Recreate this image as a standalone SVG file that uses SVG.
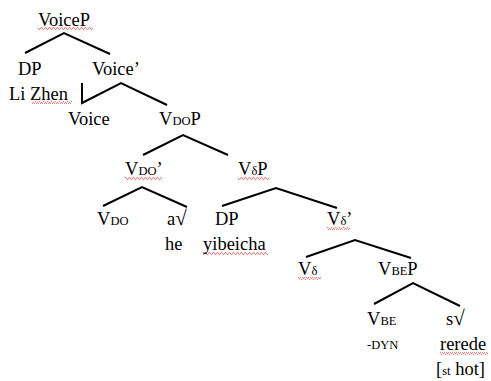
<svg xmlns="http://www.w3.org/2000/svg" width="491" height="381" viewBox="0 0 491 381">
<style>
  text { font-family: "Liberation Serif", "Times New Roman", serif; font-size: 18.5px; fill: #000; }
  .sc { font-size: 12.5px; }
  .rt { font-size: 21px; }
  .edge { fill: none; stroke: #000; stroke-width: 2; stroke-linejoin: miter; }
</style>
<defs>
  <pattern id="squig" x="0" y="0" width="4" height="3" patternUnits="userSpaceOnUse">
    <path d="M0,2.5 L1,0.5 L2,0.5 L3,2.5 L4,2.5" fill="none" stroke="#e26262" stroke-width="0.8"/>
  </pattern>
</defs>
<rect width="491" height="381" fill="#fff"/>
<g id="connectors">
  <polyline class="edge" points="25,53 64,33 110,54"/>
  <polyline class="edge" points="82,83 82,103 121,83 167,105"/>
  <polyline class="edge" points="143,155 183,135 228,155"/>
  <polyline class="edge" points="103,206 142,187 187,207"/>
  <polyline class="edge" points="222,206 276,188 337,208"/>
  <polyline class="edge" points="306,257 355,240 411,258"/>
  <polyline class="edge" points="374,304 413,283 460,306"/>
</g>
<g id="spellmarks">
  <rect x="38" y="27" width="55" height="3" fill="url(#squig)"/>
  <rect x="32" y="101" width="40" height="3" fill="url(#squig)"/>
  <rect x="125" y="177" width="37" height="3" fill="url(#squig)"/>
  <rect x="238" y="177" width="31" height="3" fill="url(#squig)"/>
  <rect x="203" y="252" width="65" height="3" fill="url(#squig)"/>
  <rect x="327" y="227" width="23" height="3" fill="url(#squig)"/>
  <rect x="298" y="277" width="23" height="3" fill="url(#squig)"/>
  <rect x="440" y="352" width="48" height="3" fill="url(#squig)"/>
</g>
<g id="n-voicep"><text x="38" y="26">VoiceP</text></g>
<g id="n-dp1"><text x="18" y="75">DP</text><text x="9" y="100">Li Zhen</text></g>
<g id="n-voicebar"><text x="92" y="75">Voice’</text></g>
<g id="n-voice"><text x="68" y="125">Voice</text></g>
<g id="n-vdop"><text x="159" y="125">V<tspan class="sc">DO</tspan>P</text></g>
<g id="n-vdobar"><text x="125" y="175">V<tspan class="sc">DO</tspan>’</text></g>
<g id="n-vdeltap"><text x="238" y="175">V<tspan class="sc">δ</tspan>P</text></g>
<g id="n-vdo"><text x="97" y="225">V<tspan class="sc">DO</tspan></text></g>
<g id="n-aroot"><text x="167" y="225">a<tspan class="rt">√</tspan></text><text x="165" y="250">he</text></g>
<g id="n-dp2"><text x="215" y="225">DP</text><text x="203" y="250">yibeicha</text></g>
<g id="n-vdeltabar"><text x="327" y="225">V<tspan class="sc">δ</tspan>’</text></g>
<g id="n-vdelta"><text x="298" y="275">V<tspan class="sc">δ</tspan></text></g>
<g id="n-vbep"><text x="378" y="275">V<tspan class="sc">BE</tspan>P</text></g>
<g id="n-vbe"><text x="367" y="325">V<tspan class="sc">BE</tspan></text><text class="sc" x="367" y="349">-DYN</text></g>
<g id="n-sroot"><text x="446" y="325">s<tspan class="rt">√</tspan></text><text x="440" y="350">rerede</text><text x="436" y="375">[<tspan class="sc">st</tspan> hot]</text></g>
</svg>
